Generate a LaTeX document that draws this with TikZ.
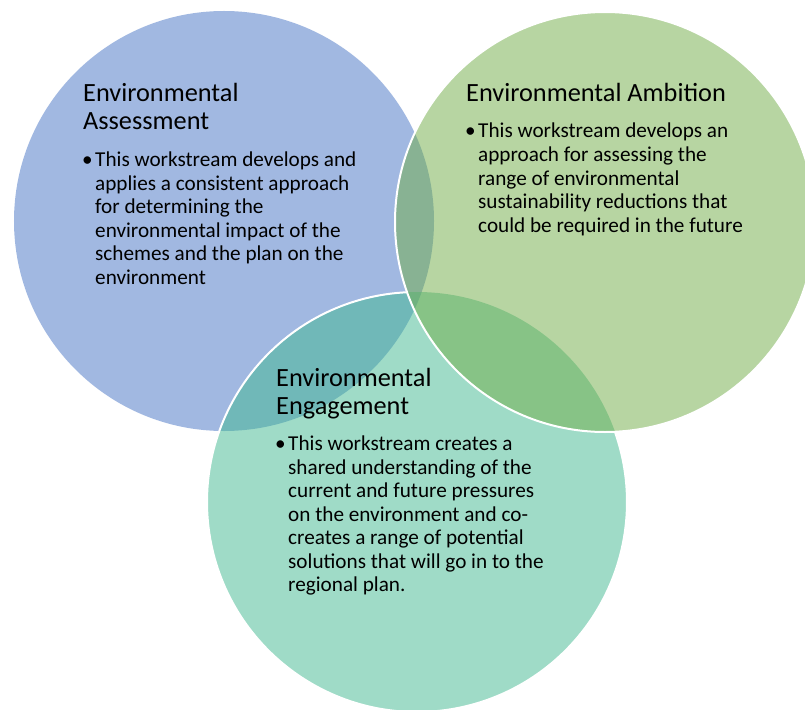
\documentclass[tikz,border=0pt]{standalone}
\usepackage{fontspec}
\setmainfont{Carlito}
\definecolor{cblue}{HTML}{4472C4}
\definecolor{cteal}{HTML}{41B991}
\definecolor{cgreen}{HTML}{70AD47}
\begin{document}
\begin{tikzpicture}[x=1bp,y=-1bp,
  venn/.style={circle, minimum size=420bp, inner sep=0pt, draw=none, fill opacity=0.5},
  rim/.style={draw=white, line width=2bp},
  ttl/.style={anchor=base west, inner sep=0pt, font=\fontsize{26.3bp}{28bp}\selectfont},
  bul/.style={anchor=base west, inner sep=0pt, font=\fontsize{21.2bp}{23.5bp}\selectfont},
  body/.style={anchor=base west, inner sep=0pt, font=\fontsize{21.2bp}{23.5bp}\selectfont}]
\useasboundingbox (0,0) rectangle (805,710);
\fill[white] (0,0) rectangle (805,710);
% circles
\node[venn, fill=cblue] (assess) at (224,221) {};
\node[venn, fill=cteal] (engage) at (417,502) {};
\node[venn, fill=cgreen] (ambit) at (605,222) {};
% white rims
\draw[rim] (engage.center) ++(267.3:210) arc[start angle=267.3, end angle=-19.5, radius=210];
\draw[rim] (ambit.center) circle[radius=210];
% Assessment text
\node[ttl] (t1) at (83,102) {\parbox[t]{300bp}{Environmental\\Assessment}};
\node[bul] (b1) at (82,166.7) {•};
\node[body] (x1) at (95,166.7) {\parbox[t]{300bp}{This workstream develops and\\applies a consistent approach\\for determining the\\environmental impact of the\\schemes and the plan on the\\environment}};
% Ambition text
\node[ttl] (t2) at (466,101.7) {Environmental Ambition};
\node[bul] (b2) at (465,138) {•};
\node[body] (x2) at (478,138) {\parbox[t]{330bp}{This workstream develops an\\approach for assessing the\\range of environmental\\sustainability reductions that\\could be required in the future}};
% Engagement text
\node[ttl] (t3) at (276,386) {\parbox[t]{300bp}{Environmental\\Engagement}};
\node[bul] (b3) at (275,450.7) {•};
\node[body] (x3) at (288,450.7) {\parbox[t]{330bp}{This workstream creates a\\shared understanding of the\\current and future pressures\\on the environment and co-\\creates a range of potential\\solutions that will go in to the\\regional plan.}};
\end{tikzpicture}
\end{document}
